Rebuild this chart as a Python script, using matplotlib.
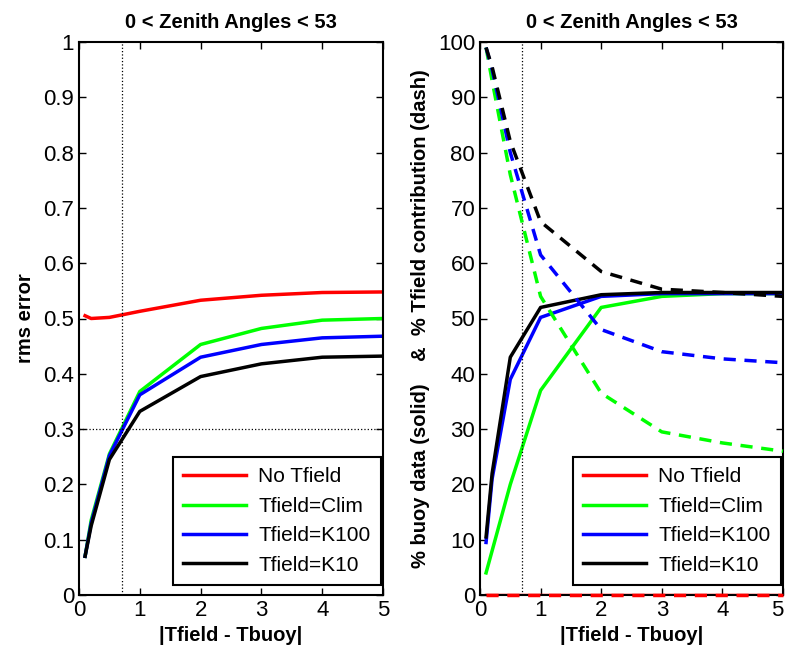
import numpy as np
import matplotlib.pyplot as plt

plt.rcParams['font.family'] = ['Liberation Sans', 'DejaVu Sans']

dT = [0.1, 0.2, 0.5, 1, 2, 3, 4, 5]
labels = ['No Tfield', 'Tfield=Clim', 'Tfield=K100', 'Tfield=K10']
colors = ['#ff0000', '#00ff00', '#0000ff', '#000000']

# rms error
rms_none = [0.505, 0.500, 0.502, 0.513, 0.533, 0.542, 0.547, 0.548]
rms_clim = [0.07, 0.135, 0.255, 0.368, 0.453, 0.482, 0.497, 0.500]
rms_k100 = [0.07, 0.13, 0.252, 0.362, 0.430, 0.453, 0.465, 0.468]
rms_k10 = [0.07, 0.125, 0.245, 0.332, 0.395, 0.418, 0.430, 0.432]

# % buoy data (solid)
buoy_none = [0, 0, 0, 0, 0, 0, 0, 0]
buoy_clim = [4, 8, 20, 37, 52, 54, 54.5, 54.5]
buoy_k100 = [9.5, 21, 39, 50.2, 54, 54.5, 54.5, 54.5]
buoy_k10 = [10.5, 22, 43, 52, 54.3, 54.7, 54.7, 54.7]

# % Tfield contribution (dash)
tf_none = [0, 0, 0, 0, 0, 0, 0, 0]
tf_clim = [99, 93, 76, 54, 36.5, 29.5, 27.5, 26]
tf_k100 = [99, 95, 80, 61.5, 48, 44, 42.7, 42]
tf_k10 = [99, 95.5, 82, 67.5, 58.5, 55.3, 54.7, 54]

fig = plt.figure(figsize=(7.87, 6.56), dpi=100)
ax1 = fig.add_axes([79/787, 1-595/656, 304/787, 553/656])
ax2 = fig.add_axes([480/787, 1-595/656, 303/787, 553/656])

for y, c, l in zip([rms_none, rms_clim, rms_k100, rms_k10], colors, labels):
    ax1.plot(dT, y, color=c, lw=2.5, label=l)
ax1.axvline(0.7, color='k', ls=':', lw=0.9)
ax1.axhline(0.3, color='k', ls=':', lw=0.9)
ax1.set_xlim(0, 5)
ax1.set_ylim(0, 1)
ax1.set_xticks(range(6))
ax1.set_yticks(np.arange(0, 1.01, 0.1))
ax1.set_yticklabels(['0', '0.1', '0.2', '0.3', '0.4', '0.5', '0.6', '0.7', '0.8', '0.9', '1'])
ax1.set_ylabel('rms error', fontweight='bold', fontsize=14.5, labelpad=6)

for y, c, l in zip([buoy_none, buoy_clim, buoy_k100, buoy_k10], colors, labels):
    ax2.plot(dT, y, color=c, lw=2.5, label=l)
for y, c in zip([tf_none, tf_clim, tf_k100, tf_k10], colors):
    ax2.plot(dT, y, color=c, lw=2.5, ls=(0, (3.5, 2.5)), clip_on=False, zorder=7)
ax2.axvline(0.7, color='k', ls=':', lw=0.9)
ax2.set_xlim(0, 5)
ax2.set_ylim(0, 100)
ax2.set_xticks(range(6))
ax2.set_yticks(range(0, 101, 10))
ax2.set_ylabel('% buoy data (solid)    &  % Tfield contribution (dash)',
               fontweight='bold', fontsize=14.5, labelpad=6)

for ax in (ax1, ax2):
    ax.set_title('0 < Zenith Angles < 53', fontweight='bold', fontsize=14.5, pad=10)
    ax.set_xlabel('|Tfield - Tbuoy|', fontweight='bold', fontsize=14.5)
    ax.tick_params(direction='in', top=True, right=True, labelsize=16, length=5, width=1)
    for s in ax.spines.values():
        s.set_linewidth(1.5)
        s.set_zorder(6)
    leg = ax.legend(loc='lower right', fontsize=15, fancybox=False, edgecolor='k',
                    framealpha=1, handlelength=3.0, handletextpad=0.6, borderpad=0.5,
                    labelspacing=0.5, borderaxespad=0,
                    bbox_to_anchor=(0.993, 0.018))
    leg.get_frame().set_linewidth(1.5)
    leg.set_zorder(10)

# keep the last tick label of the right panel inside the figure
ax2.get_xticklabels()[-1].set_horizontalalignment('right')

fig.savefig('out.png', dpi=100)
